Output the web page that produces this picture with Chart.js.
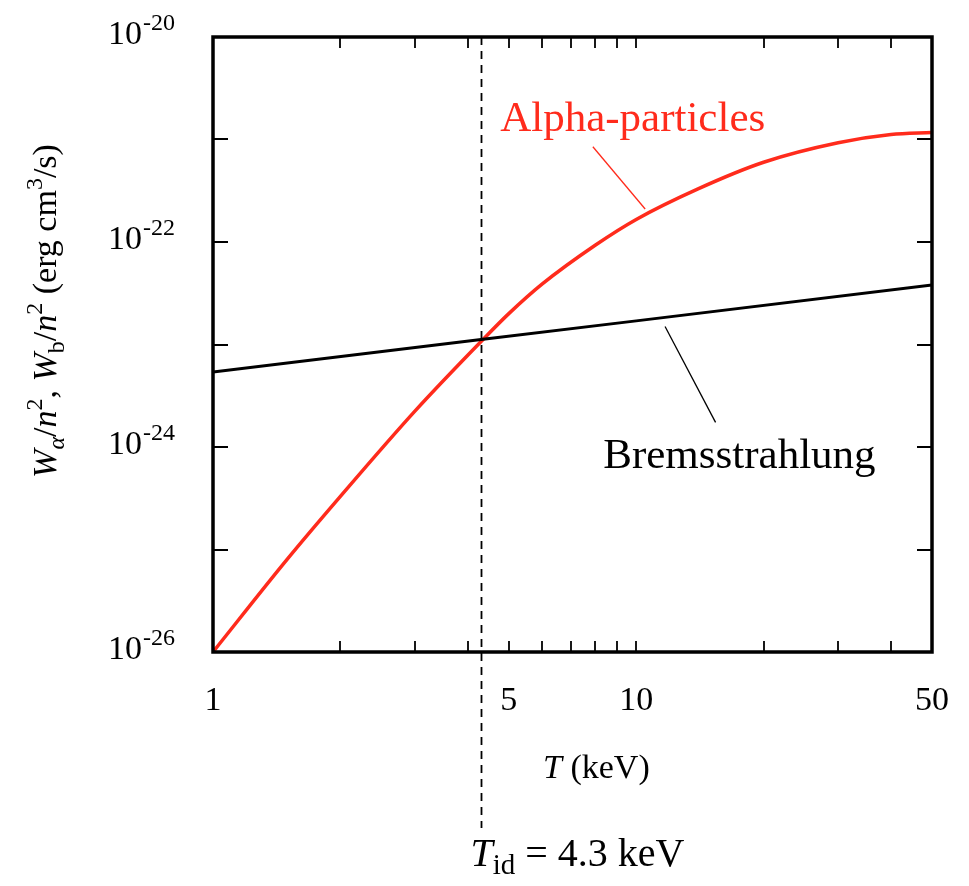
<!DOCTYPE html>
<html>
<head>
<meta charset="utf-8">
<script src="https://cdn.jsdelivr.net/npm/chart.js@4.4.0/dist/chart.umd.min.js"></script>
<style>
  html, body { margin: 0; padding: 0; background: #fff; }
</style>
</head>
<body>
<canvas id="chart" width="969" height="886"></canvas>
<script>
// temperatures (keV) and powers (erg cm^3/s)
const temps = [1, 1.5, 2, 3, 4.3, 5, 6, 8, 10, 14, 20, 30, 40, 50]
const alphaPower = [1e-26, 8.1e-26, 3.3e-25, 2.24e-24, 1.07e-23, 2.0e-23, 3.9e-23, 9.3e-23, 1.66e-22, 3.3e-22, 6.0e-22, 9.3e-22, 1.12e-21, 1.17e-21]
const bremsTemps = [1, 4.3, 10, 50]
const bremsPower = [5.4e-24, 1.12e-23, 1.7e-23, 3.8e-23]

const xTickLabels = [1, 5, 10, 50]
const xMinorTicks = [2, 3, 4, 5, 6, 7, 8, 9, 10, 20, 30, 40]
const yTickExps = [-20, -21, -22, -23, -24, -25, -26]
const yLabelExps = [-20, -22, -24, -26]
const tIdeal = 4.3

const SERIF = "'Liberation Serif', 'DejaVu Serif', serif"
const RED = '#ff2b1c'

// draw a run of text pieces (italic / sub / sup) from x
function drawRun(ctx, parts, x, y, align) {
    let total = 0
    parts.forEach(p => {
        ctx.font = (p.italic ? 'italic ' : '') + p.size + 'px ' + SERIF
        p.w = ctx.measureText(p.text).width
        total += p.w
    })
    if (align === 'center') x -= total / 2
    if (align === 'right') x -= total
    ctx.textAlign = 'left'
    ctx.textBaseline = 'alphabetic'
    parts.forEach(p => {
        ctx.font = (p.italic ? 'italic ' : '') + p.size + 'px ' + SERIF
        ctx.fillText(p.text, x, y + (p.dy || 0))
        x += p.w
    })
}

const decorations = {
    id: 'decorations',
    afterDraw(chart) {
        const ctx = chart.ctx
        const xs = chart.scales.x, ys = chart.scales.y
        const a = chart.chartArea
        ctx.save()
        ctx.fillStyle = '#000'
        ctx.strokeStyle = '#000'

        // ticks on all four sides
        ctx.lineWidth = 1.8
        ctx.beginPath()
        xMinorTicks.forEach(v => {
            const px = Math.round(xs.getPixelForValue(v))
            ctx.moveTo(px, a.bottom); ctx.lineTo(px, a.bottom - 11)
            ctx.moveTo(px, a.top); ctx.lineTo(px, a.top + 11)
        })
        yTickExps.forEach(e => {
            const py = Math.round(ys.getPixelForValue(Math.pow(10, e)))
            ctx.moveTo(a.left, py); ctx.lineTo(a.left + 15, py)
            ctx.moveTo(a.right, py); ctx.lineTo(a.right - 15, py)
        })
        ctx.stroke()

        // frame
        ctx.lineWidth = 3.5
        ctx.strokeRect(a.left, a.top, a.right - a.left, a.bottom - a.top)

        // x tick labels
        xTickLabels.forEach(v => {
            drawRun(ctx, [{ text: String(v), size: 34 }], xs.getPixelForValue(v), a.bottom + 58, 'center')
        })

        // y tick labels 10^e
        yLabelExps.forEach(e => {
            const py = ys.getPixelForValue(Math.pow(10, e))
            ctx.font = '24px ' + SERIF
            const supW = ctx.measureText(String(e)).width
            const right = a.left - 38
            drawRun(ctx, [{ text: String(e), size: 24 }], right, py - 7, 'right')
            drawRun(ctx, [{ text: '10', size: 34 }], right - supW - 1, py + 7, 'right')
        })

        // x axis title
        drawRun(ctx, [
            { text: 'T', size: 34, italic: true },
            { text: ' (keV)', size: 34 }
        ], 543, a.bottom + 126, 'left')

        // y axis title
        ctx.save()
        ctx.translate(56, 311)
        ctx.rotate(-Math.PI / 2)
        drawRun(ctx, [
            { text: 'W', size: 34, italic: true },
            { text: 'α', size: 24, italic: true, dy: 8 },
            { text: '/', size: 34 },
            { text: 'n', size: 34, italic: true },
            { text: '2', size: 24, dy: -14 },
            { text: ', ', size: 34 },
            { text: 'W', size: 34, italic: true },
            { text: 'b', size: 24, dy: 8 },
            { text: '/', size: 34 },
            { text: 'n', size: 34, italic: true },
            { text: '2', size: 24, dy: -14 },
            { text: ' (erg cm', size: 34 },
            { text: '3', size: 24, dy: -14 },
            { text: '/s)', size: 34 }
        ], 0, 0, 'center')
        ctx.restore()

        // ideal ignition temperature marker
        const xi = Math.round(xs.getPixelForValue(tIdeal)) + 0.5
        ctx.lineWidth = 1.8
        ctx.setLineDash([8, 6])
        ctx.beginPath()
        ctx.moveTo(xi, a.top); ctx.lineTo(xi, 828)
        ctx.stroke()
        ctx.setLineDash([])
        drawRun(ctx, [
            { text: 'T', size: 40, italic: true },
            { text: 'id', size: 29, dy: 8 },
            { text: ' = 4.3 keV', size: 40 }
        ], xi - 11, 866, 'left')

        // curve labels with leader lines (data coordinates)
        const P = (t, w) => [xs.getPixelForValue(t), ys.getPixelForValue(w)]
        ctx.lineWidth = 1.3
        ctx.strokeStyle = RED
        let p1 = P(7.9, 8.5e-22), p2 = P(10.5, 2.1e-22)
        ctx.beginPath(); ctx.moveTo(p1[0], p1[1]); ctx.lineTo(p2[0], p2[1]); ctx.stroke()
        ctx.fillStyle = RED
        const la = P(4.77, 1.2e-21)
        drawRun(ctx, [{ text: 'Alpha-particles', size: 43 }], la[0], la[1], 'left')

        ctx.strokeStyle = '#000'
        p1 = P(11.7, 1.5e-23); p2 = P(15.4, 1.74e-24)
        ctx.beginPath(); ctx.moveTo(p1[0], p1[1]); ctx.lineTo(p2[0], p2[1]); ctx.stroke()
        ctx.fillStyle = '#000'
        const lb = P(8.36, 6.3e-25)
        drawRun(ctx, [{ text: 'Bremsstrahlung', size: 43 }], lb[0], lb[1], 'left')

        ctx.restore()
    }
}

new Chart(document.getElementById('chart').getContext('2d'), {
    type: 'line',
    data: {
        datasets: [{
            label: 'Bremsstrahlung',
            data: bremsTemps.map((t, i) => ({ x: t, y: bremsPower[i] })),
            borderColor: '#000',
            borderWidth: 3,
            pointRadius: 0
        }, {
            label: 'Alpha-particles',
            data: temps.map((t, i) => ({ x: t, y: alphaPower[i] })),
            borderColor: RED,
            borderWidth: 3.5,
            pointRadius: 0,
            cubicInterpolationMode: 'monotone'
        }]
    },
    options: {
        responsive: false,
        devicePixelRatio: 1,
        animation: false,
        layout: { padding: { left: 213, top: 37, right: 37, bottom: 234 } },
        plugins: { legend: { display: false }, tooltip: { enabled: false } },
        scales: {
            x: { type: 'logarithmic', min: 1, max: 50, display: false },
            y: { type: 'logarithmic', min: 1e-26, max: 1e-20, display: false }
        }
    },
    plugins: [decorations]
})
</script>
</body>
</html>
